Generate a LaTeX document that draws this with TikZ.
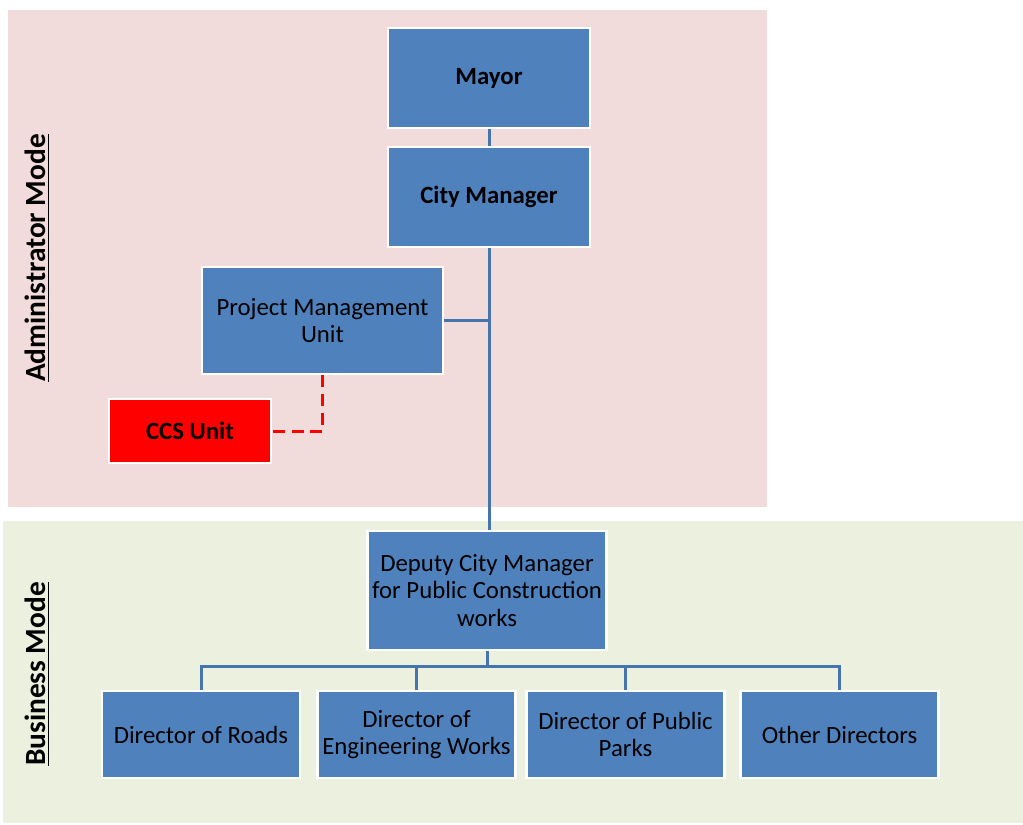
\documentclass[tikz,border=0pt]{standalone}
\usepackage{fontspec}
\setmainfont{Carlito}
\definecolor{adminbg}{HTML}{F2DCDB}
\definecolor{bizbg}{HTML}{EBF1DE}
\definecolor{boxblue}{HTML}{4F81BD}
\definecolor{linkblue}{HTML}{4675AE}
\definecolor{ccsred}{HTML}{FF0000}
\begin{document}
\begin{tikzpicture}[x=0.75pt,y=-0.75pt,
  unit/.style={rectangle, draw=white, line width=2pt, fill=boxblue,
    align=center, inner sep=0pt, font=\fontsize{18.6}{20.5}\selectfont,
    text=black},
  link/.style={draw=linkblue, line width=2.25pt},
  dashlink/.style={draw=ccsred, line width=2.25pt, dash pattern=on 9pt off 5pt},
  modelabel/.style={rotate=90, font=\bfseries\fontsize{22}{24}\selectfont, text=black}]

\useasboundingbox (0,0) rectangle (1023,824);

% background panels
\fill[adminbg] (8,10) rectangle (767,507);
\fill[bizbg] (3,521) rectangle (1023,823);

% mode labels
\node[modelabel] (admin) at (37,258) {\underline{Administrator Mode}};
\node[modelabel] (biz) at (37,674) {\underline{Business Mode}};

% administration units
\node[unit, minimum width=151.5pt, minimum height=75pt] (mayor) at (489,78) {\bfseries Mayor};
\node[unit, minimum width=151.5pt, minimum height=75pt] (cm) at (489,197) {\bfseries City Manager};
\node[unit, minimum width=180.75pt, minimum height=80.25pt] (pmu) at (322.5,320.5) {Project Management\\Unit};
\node[unit, fill=ccsred, minimum width=121.5pt, minimum height=48pt] (ccs) at (190,431) {\bfseries CCS Unit};

% business units
\node[unit, minimum width=179.25pt, minimum height=89.25pt] (dep) at (487,590.5) {Deputy City Manager\\for Public Construction\\works};
\node[unit, minimum width=148.5pt, minimum height=65.25pt] (roads) at (201,734.5) {Director of Roads};
\node[unit, minimum width=148.5pt, minimum height=65.25pt] (eng) at (416.5,734.5) {Director of\\Engineering Works};
\node[unit, minimum width=148.5pt, minimum height=65.25pt] (parks) at (625.5,734.5) {Director of Public\\Parks};
\node[unit, minimum width=148.5pt, minimum height=65.25pt] (other) at (839.5,734.5) {Other Directors};

\coordinate (bus) at (487,666);

% reporting lines
\draw[link] (mayor.south) -- (cm.north);
\draw[link] (cm.south) -- (cm.south |- dep.north);
\draw[link] (pmu.east) -- (pmu.east -| cm.south);
\draw[link] (dep.south) -- (bus);
\draw[link] (roads.north) |- (bus);
\draw[link] (eng.north) |- (bus);
\draw[link] (parks.north) |- (bus);
\draw[link] (other.north) |- (bus);
\draw[dashlink] (pmu.south) |- (ccs.east);
\end{tikzpicture}
\end{document}
